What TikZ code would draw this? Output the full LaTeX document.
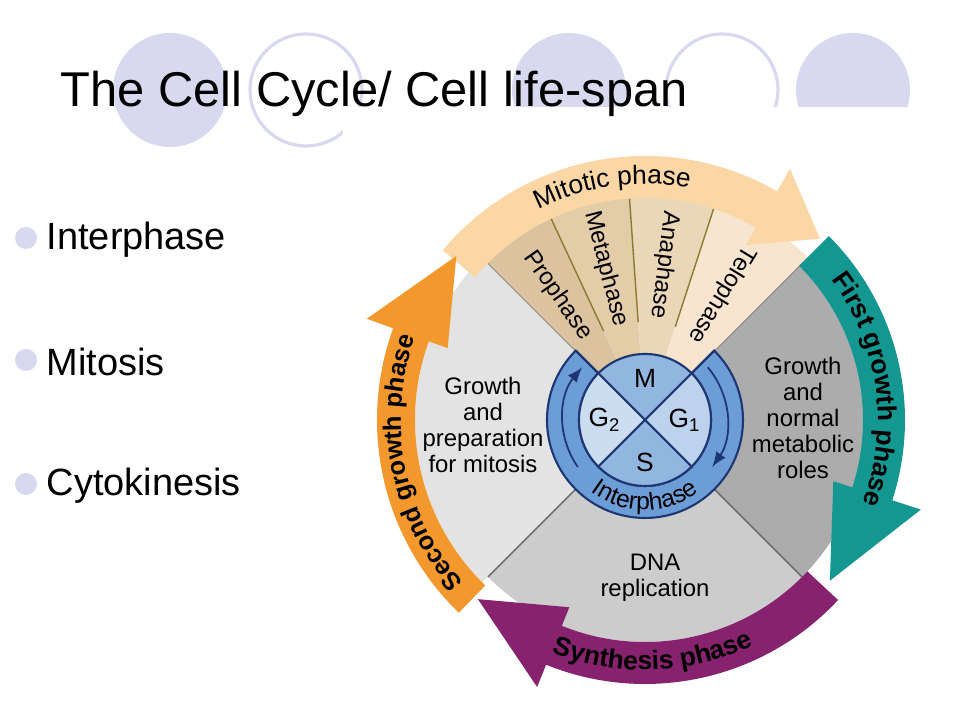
\documentclass[tikz,border=0pt]{standalone}
\usepackage{fontspec}
\setmainfont{Liberation Sans}
\usepackage{tikz}
\usetikzlibrary{arrows, shapes, decorations.text, positioning}
\definecolor{lavender}{RGB}{216,216,238}
\definecolor{mitband}{RGB}{250,215,165}
\definecolor{tealband}{RGB}{20,150,145}
\definecolor{purpband}{RGB}{135,35,110}
\definecolor{orangeband}{RGB}{242,152,45}
\definecolor{prophasec}{RGB}{218,195,158}
\definecolor{metaphasec}{RGB}{226,205,168}
\definecolor{anaphasec}{RGB}{233,215,184}
\definecolor{telophasec}{RGB}{248,229,207}
\definecolor{ringblue}{RGB}{108,157,214}
\definecolor{navy}{RGB}{30,55,115}
\tikzstyle{deco} = [fill=lavender, draw=none]
\tikzstyle{decoring} = [draw=lavender, line width=0.9pt]
\tikzstyle{bullet} = [circle, fill=lavender, minimum size=0.22cm, inner sep=0]
\tikzstyle{item} = [anchor=west, inner sep=0, font=\fontsize{10.8}{13}\selectfont]
\tikzstyle{phase} = [inner sep=1pt, font=\fontsize{6.8}{8}\selectfont]
\tikzstyle{sector} = [align=center, font=\fontsize{6.8}{7.4}\selectfont]
\tikzstyle{quad} = [font=\fontsize{7.5}{9}\selectfont]
\tikzstyle{wedgeline} = [draw={rgb,255:red,140;green,122;blue,50}, line width=0.4pt]

\begin{document}
\begin{tikzpicture}
				\useasboundingbox (0, 0) rectangle (9.6, 7.2);
				\fill[white] (0, 0) rectangle (9.6, 7.2);

				\fill[deco] (1.70, 6.30) circle (0.57);
				\draw[decoring] (3.06, 6.30) circle (0.56);
				\fill[deco] (5.69, 6.30) circle (0.57);
				\draw[decoring] (7.22, 6.30) circle (0.56);
				\fill[deco] (8.53, 6.30) circle (0.57);
				\fill[white] (3.43, 0) rectangle (9.6, 6.13);

				\node (Title) [anchor=base west, inner sep=0, font=\fontsize{13.9}{16}\selectfont] at (0.60, 6.13) {The Cell Cycle/ Cell life-span};

				\node (B1) [bullet] at (0.26, 4.82) {};
				\node (Inter) [item] at (0.46, 4.80) {Interphase};
				\node (B2) [bullet] at (0.26, 3.60) {};
				\node (Mito) [item] at (0.46, 3.58) {Mitosis};
				\node (B3) [bullet] at (0.26, 2.36) {};
				\node (Cyto) [item] at (0.46, 2.34) {Cytokinesis};

				\begin{scope}[shift={(6.45, 3.0)}]
				\coordinate (C) at (0, 0);
				% grey sectors
				\fill[gray!22] (C) -- (135:2.30) arc[start angle=135, end angle=225, radius=2.30] -- cycle;
				\fill[gray!40] (C) -- (225:2.22) arc[start angle=225, end angle=315, radius=2.22] -- cycle;
				\fill[gray!65] (C) -- (-45:2.22) arc[start angle=-45, end angle=45, radius=2.22] -- cycle;
				\draw[gray!80!black, line width=0.4pt] (135:0.98) -- (135:2.30);
				\draw[gray!80!black, line width=0.4pt] (225:0.98) -- (225:2.22);
				\draw[gray!80!black, line width=0.4pt] (-45:0.98) -- (-45:2.22);
				\draw[gray!80!black, line width=0.4pt] (45:0.98) -- (45:2.22);

				% mitotic wedges
				\fill[prophasec] (C) -- (135:2.30) arc[start angle=135, end angle=115, radius=2.30] -- cycle;
				\fill[metaphasec] (C) -- (115:2.30) arc[start angle=115, end angle=94, radius=2.30] -- cycle;
				\fill[anaphasec] (C) -- (94:2.30) arc[start angle=94, end angle=72, radius=2.30] -- cycle;
				\fill[telophasec] (C) -- (72:2.30) arc[start angle=72, end angle=45, radius=2.30] -- cycle;
				\draw[wedgeline] (115:0.98) -- (115:2.30);
				\draw[wedgeline] (94:0.98) -- (94:2.30);
				\draw[wedgeline] (72:0.98) -- (72:2.30);
				\node (Pro) [phase, rotate=-55] at (125:1.52) {Prophase};
				\node (Meta) [phase, rotate=-75.5] at (104.5:1.56) {Metaphase};
				\node (Ana) [phase, rotate=-97] at (83:1.56) {Anaphase};
				\node (Telo) [phase, rotate=-121.5] at (58.5:1.47) {Telophase};

				% outer arrows
				\fill[mitband] (140:2.22) arc[start angle=140, end angle=60, radius=2.22] -- (60:2.02) -- (46:2.52)
					-- (60:2.90) -- (60:2.64) arc[start angle=60, end angle=140, radius=2.64] -- cycle;
				\fill[tealband] (45:2.18) arc[start angle=45, end angle=-18, radius=2.18] -- (-18:1.98) -- (-41:2.45)
					-- (-18:2.90) -- (-18:2.60) arc[start angle=-18, end angle=45, radius=2.60] -- cycle;
				\fill[purpband] (-43:2.22) arc[start angle=-43, end angle=-112, radius=2.22] -- (-112:2.02) -- (-133:2.45)
					-- (-112:2.88) -- (-112:2.64) arc[start angle=-112, end angle=-43, radius=2.64] -- cycle;
				\fill[orangeband] (-134:2.30) arc[start angle=226, end angle=160, radius=2.30] -- (160:2.10) -- (139:2.50)
					-- (160:2.96) -- (160:2.68) arc[start angle=160, end angle=226, radius=2.68] -- cycle;

				\path[decorate, decoration={text along path, text align=center,
					text={|\fontsize{7.5}{9}\selectfont|Mitotic phase}}] (128:2.36) arc[start angle=128, end angle=68, radius=2.36];
				\path[decorate, decoration={text along path, text align=center,
					text={|\bfseries\fontsize{7.5}{9}\selectfont|First growth phase}}] (40:2.33) arc[start angle=40, end angle=-24, radius=2.33];
				\path[decorate, decoration={text along path, text align=center,
					text={|\bfseries\fontsize{7.5}{9}\selectfont|Synthesis phase}}] (-118:2.50) arc[start angle=-118, end angle=-58, radius=2.50];
				\path[decorate, decoration={text along path, text align=center,
					text={|\bfseries\fontsize{7.2}{9}\selectfont|Second growth phase}}] (232:2.44) arc[start angle=232, end angle=150, radius=2.44];

				% sector labels
				\node (Prep) [sector] at (-1.62, -0.05) {Growth\\and\\preparation\\for mitosis};
				\node (Normal) [sector] at (1.58, 0.02) {Growth\\and\\normal\\metabolic\\roles};
				\node (DNA) [sector] at (0.1, -1.58) {DNA\\replication};

				% interphase ring
				\fill[ringblue, draw=navy, line width=0.6pt] (135:0.98) arc[start angle=135, end angle=405, radius=0.98]
					-- (45:0.66) arc[start angle=45, end angle=-225, radius=0.66] -- cycle;
				\fill[ringblue!75!white] (C) -- (45:0.66) arc[start angle=45, end angle=135, radius=0.66] -- cycle;
				\fill[ringblue!45!white] (C) -- (-45:0.66) arc[start angle=-45, end angle=45, radius=0.66] -- cycle;
				\fill[ringblue!75!white] (C) -- (225:0.66) arc[start angle=225, end angle=315, radius=0.66] -- cycle;
				\fill[ringblue!35!white] (C) -- (135:0.66) arc[start angle=135, end angle=225, radius=0.66] -- cycle;
				\draw[navy, line width=0.6pt] (C) circle (0.66);
				\draw[navy, line width=0.6pt] (135:0.98) -- (-45:0.66);
				\draw[navy, line width=0.6pt] (45:0.98) -- (225:0.66);
				\draw[navy, line width=0.5pt, -latex] (215:0.82) arc[start angle=215, end angle=140, radius=0.82];
				\draw[navy, line width=0.5pt, -latex] (40:0.82) arc[start angle=40, end angle=-35, radius=0.82];
				\path[decorate, decoration={text along path, text align=center,
					text={|\fontsize{7}{8}\selectfont|Interphase}}] (222:0.90) arc[start angle=222, end angle=318, radius=0.90];

				\node (M) [quad] at (90:0.42) {M};
				\node (G1) [quad] at (0:0.40) {G\textsubscript{1}};
				\node (S) [quad] at (270:0.42) {S};
				\node (G2) [quad] at (180:0.40) {G\textsubscript{2}};
				\end{scope}
			\end{tikzpicture}
\end{document}
